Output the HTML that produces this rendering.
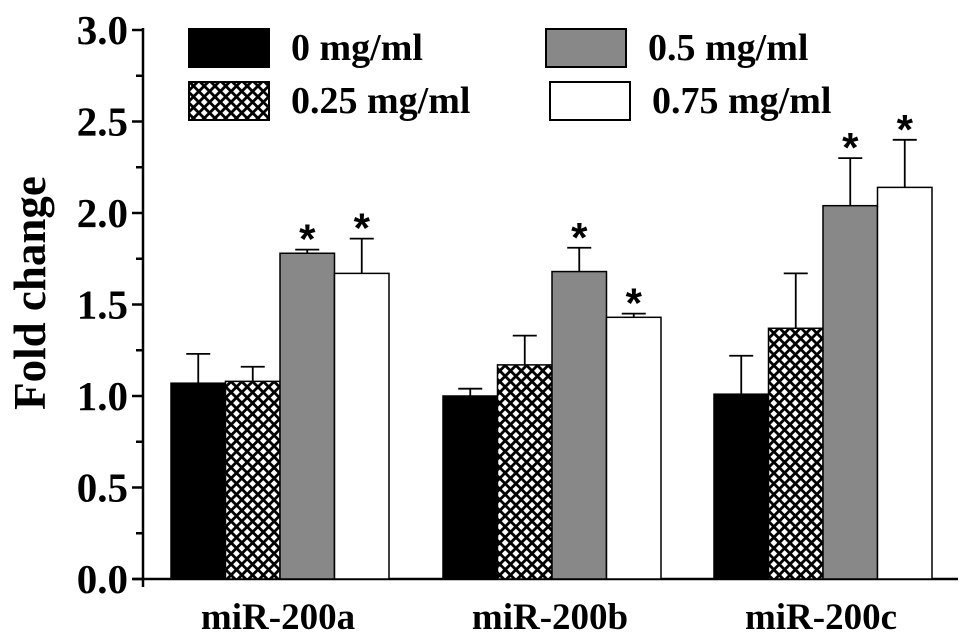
<!DOCTYPE html>
<html><head><meta charset="utf-8"><style>
body{margin:0;background:#fff;}
svg{display:block;font-family:"Liberation Serif",serif;font-weight:bold;}
</style></head><body>
<svg id="chart" width="969" height="637" viewBox="0 0 969 637" xmlns="http://www.w3.org/2000/svg">
<defs>
<pattern id="hatch" patternUnits="userSpaceOnUse" width="7.6" height="7.6" patternTransform="rotate(45)">
<rect width="7.6" height="7.6" fill="#000"/>
<rect x="1.4" y="1.4" width="4.8" height="4.8" fill="#fff"/>
</pattern>
</defs>
<g id="axes"></g>
<g id="bars"></g>
<g id="legend"></g>
</svg>
<script>
const categories = ["miR-200a","miR-200b","miR-200c"];
const seriesNames = ["0 mg/ml","0.25 mg/ml","0.5 mg/ml","0.75 mg/ml"];
const s0 = [1.07, 1.00, 1.01];
const s1 = [1.08, 1.17, 1.37];
const s2 = [1.78, 1.68, 2.04];
const s3 = [1.67, 1.43, 2.14];
const e0 = [1.23, 1.04, 1.22];
const e1 = [1.16, 1.33, 1.67];
const e2 = [1.80, 1.81, 2.30];
const e3 = [1.86, 1.45, 2.40];
const star0 = [false,false,false];
const star1 = [false,false,false];
const star2 = [true,true,true];
const star3 = [true,true,true];
const yTicks = ["0.0","0.5","1.0","1.5","2.0","2.5","3.0"];

const NS="http://www.w3.org/2000/svg";
function mk(tag, attrs, parent, text){const e=document.createElementNS(NS,tag);for(const k in attrs)e.setAttribute(k,attrs[k]);if(text!==undefined)e.textContent=text;parent.appendChild(e);return e;}
const x0=143, y0=579, pxPerUnit=183;
function yS(v){return y0 - v*pxPerUnit;}
const groupStart=[171,443,714], barW=54.5;
function xS(g,s){return groupStart[g]+s*barW;}
const fills=["#000","url(#hatch)","#888","#fff"];
const series=[s0,s1,s2,s3], errs=[e0,e1,e2,e3], stars=[star0,star1,star2,star3];

const axes=document.getElementById('axes');
let l=mk('line',{x1:x0,y1:yS(3.0)-2,x2:x0,y2:y0+8,stroke:'#000','stroke-width':2.5},axes);


l=mk('line',{x1:x0-10,y1:y0,x2:958,y2:y0,stroke:'#000','stroke-width':2.5},axes);


for(let i=0;i<yTicks.length;i++){
  const v=parseFloat(yTicks[i]);
  const t=mk('line',{x1:x0-11,y1:yS(v),x2:x0,y2:yS(v),stroke:'#000','stroke-width':2.5},axes);
  
  
  if(i<yTicks.length-1){
    const m=mk('line',{x1:x0-7,y1:yS(v+0.25),x2:x0,y2:yS(v+0.25),stroke:'#000','stroke-width':2.5},axes);
    
    
  }
  const tx=mk('text',{x:x0-15,y:yS(v)+14,'text-anchor':'end','font-size':41},axes,yTicks[i]);
  
  
}
let yt=mk('text',{x:0,y:0,'text-anchor':'middle','font-size':45,transform:'translate(45,293) rotate(-90)'},axes,'Fold change');


for(let g=0;g<categories.length;g++){
  const c=mk('text',{x:groupStart[g]+2*barW-2,y:629,'text-anchor':'middle','font-size':37},axes,categories[g]);
  
  
}
const bars=document.getElementById('bars');
for(let s=0;s<4;s++){
  for(let g=0;g<categories.length;g++){
    const x=xS(g,s), top=yS(series[s][g]), cx=x+barW/2;
    const el=mk('line',{x1:cx,y1:top,x2:cx,y2:yS(errs[s][g]),stroke:'#000','stroke-width':1.8},bars);
    
    
    const cap=mk('line',{x1:cx-12,y1:yS(errs[s][g]),x2:cx+12,y2:yS(errs[s][g]),stroke:'#000','stroke-width':1.8},bars);
    
    
    const r=mk('rect',{x:x,y:top,width:barW,height:y0-top,fill:fills[s],stroke:'#000','stroke-width':1.5},bars);
    
    
    if(stars[s][g]){
      const st=mk('text',{x:cx,y:yS(errs[s][g])+4,'text-anchor':'middle','font-size':42,'font-family':'Liberation Sans, sans-serif'},bars,'*');
      
      
    }
  }
}
const legend=document.getElementById('legend');
const legPos=[[189,29],[189,82],[546,29],[550,82]];
for(let s=0;s<4;s++){
  const [lx,ly]=legPos[s];
  const sw=mk('rect',{x:lx,y:ly,width:80,height:38,fill:fills[s],stroke:'#000','stroke-width':2},legend);
  
  
  const t=mk('text',{x:lx+102,y:ly+31,'font-size':38},legend,seriesNames[s]);
  
  
}
</script>
</body></html>
